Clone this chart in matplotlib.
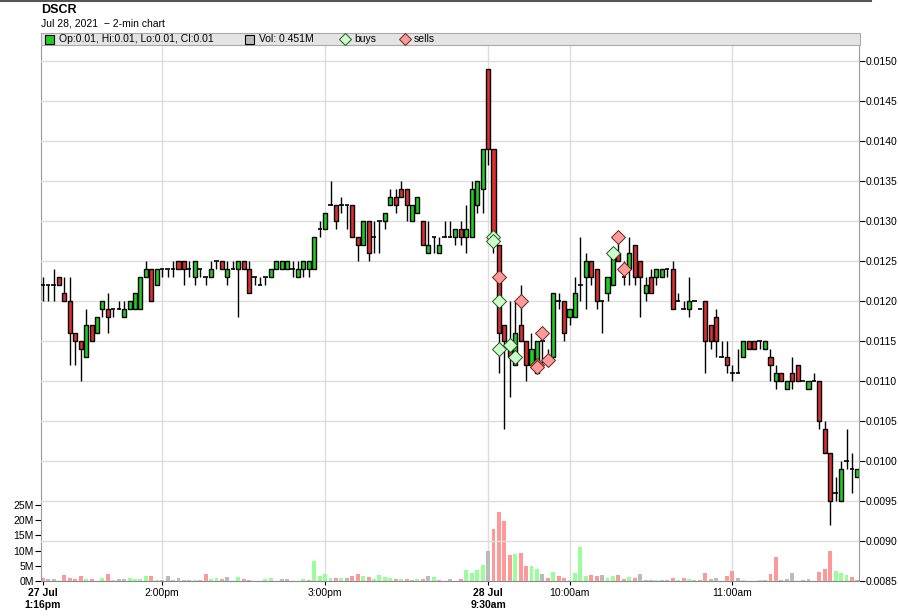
#!/usr/bin/env python3
"""DSCR 2-min candlestick chart with volume — matplotlib"""
import numpy as np
import matplotlib
matplotlib.use('Agg')
import matplotlib.pyplot as plt
from matplotlib.patches import Rectangle
from matplotlib.lines import Line2D

plt.rcParams['font.family'] = ['Liberation Sans', 'DejaVu Sans']

# ============================================================
#  Data (one entry per 2-min bar, 27 Jul 1:16pm -> 28 Jul ~11:46am)
# ============================================================

opens = [
    0.0122, 0.0122, 0.0122, 0.0123, 0.0121, 0.0120, 0.0116, 0.0115, 0.0113, 0.0117,
    0.0116, 0.0119, 0.0119, 0.0119, 0.0119, 0.0118, 0.0119, 0.0119, 0.0119, 0.0123,
    0.0124, 0.0122, 0.0124, 0.0124, 0.0124, 0.0125, 0.0125, 0.0124, 0.0123, 0.0124,
    0.0123, 0.0123, 0.0125, 0.0125, 0.0123, 0.0124, 0.0124, 0.0125, 0.0124, 0.0123,
    0.0122, 0.0123, 0.0123, 0.0124, 0.0124, 0.0124, 0.0124, 0.0123, 0.0124, 0.0124,
    0.0124, 0.0129, 0.0129, 0.0132, 0.0132, 0.0132, 0.0132, 0.0132, 0.0128, 0.0127,
    0.0130, 0.0128, 0.0130, 0.0130, 0.0132, 0.0133, 0.0134, 0.0134, 0.0130, 0.0131,
    0.0130, 0.0126, 0.0128, 0.0126, 0.0128, 0.0128, 0.0128, 0.0129, 0.0128, 0.0128,
    0.0132, 0.0134, 0.0149, 0.0139, 0.0127, 0.0117, 0.0114, 0.0112, 0.0117, 0.0115,
    0.0112, 0.0111, 0.0115, 0.0113, 0.0113, 0.0120, 0.0120, 0.0118, 0.0118, 0.0122,
    0.0123, 0.0125, 0.0124, 0.0120, 0.0121, 0.0122, 0.0126, 0.0123, 0.0124, 0.0127,
    0.0125, 0.0121, 0.0123, 0.0123, 0.0123, 0.0124, 0.0124, 0.0120, 0.0119, 0.0119,
    0.0120, 0.0119, 0.0120, 0.0117, 0.0118, 0.0113, 0.0113, 0.0111, 0.0111, 0.0113,
    0.0115, 0.0115, 0.0115, 0.0114, 0.0113, 0.0110, 0.0111, 0.0109, 0.0111, 0.0112,
    0.0110, 0.0109, 0.0110, 0.0110, 0.0104, 0.0101, 0.0096, 0.0095, 0.0100, 0.0099,
    0.0098,
]
highs = [
    0.0123, 0.0122, 0.0124, 0.0123, 0.0123, 0.0123, 0.0116, 0.0115, 0.0119, 0.0117,
    0.0118, 0.0120, 0.0121, 0.0119, 0.0120, 0.0120, 0.0120, 0.0121, 0.0123, 0.0125,
    0.0124, 0.0124, 0.0124, 0.0124, 0.0125, 0.0125, 0.0125, 0.0125, 0.0125, 0.0124,
    0.0123, 0.0125, 0.0125, 0.0125, 0.0125, 0.0125, 0.0125, 0.0125, 0.0125, 0.0123,
    0.0123, 0.0123, 0.0124, 0.0125, 0.0125, 0.0125, 0.0125, 0.0125, 0.0125, 0.0125,
    0.0128, 0.0130, 0.0131, 0.0135, 0.0132, 0.0133, 0.0132, 0.0132, 0.0128, 0.0130,
    0.0130, 0.0130, 0.0130, 0.0131, 0.0134, 0.0134, 0.0135, 0.0134, 0.0132, 0.0133,
    0.0130, 0.0130, 0.0128, 0.0128, 0.0130, 0.0130, 0.0129, 0.0130, 0.0132, 0.0135,
    0.0135, 0.0139, 0.0149, 0.0139, 0.0127, 0.0117, 0.0120, 0.0120, 0.0122, 0.0115,
    0.0116, 0.0115, 0.0116, 0.0114, 0.0121, 0.0121, 0.0120, 0.0119, 0.0123, 0.0128,
    0.0126, 0.0125, 0.0124, 0.0120, 0.0123, 0.0126, 0.0128, 0.0125, 0.0128, 0.0127,
    0.0125, 0.0123, 0.0124, 0.0124, 0.0124, 0.0124, 0.0125, 0.0121, 0.0120, 0.0123,
    0.0120, 0.0119, 0.0120, 0.0117, 0.0119, 0.0115, 0.0115, 0.0112, 0.0114, 0.0115,
    0.0115, 0.0115, 0.0115, 0.0115, 0.0114, 0.0112, 0.0111, 0.0110, 0.0113, 0.0112,
    0.0110, 0.0110, 0.0111, 0.0110, 0.0105, 0.0101, 0.0098, 0.0100, 0.0104, 0.0101,
    0.0099,
]
lows = [
    0.0120, 0.0120, 0.0120, 0.0122, 0.0120, 0.0112, 0.0112, 0.0110, 0.0113, 0.0115,
    0.0116, 0.0118, 0.0116, 0.0118, 0.0119, 0.0118, 0.0119, 0.0119, 0.0119, 0.0123,
    0.0120, 0.0122, 0.0123, 0.0123, 0.0123, 0.0124, 0.0122, 0.0123, 0.0122, 0.0123,
    0.0122, 0.0123, 0.0124, 0.0124, 0.0122, 0.0124, 0.0118, 0.0124, 0.0121, 0.0122,
    0.0122, 0.0122, 0.0123, 0.0124, 0.0124, 0.0124, 0.0123, 0.0123, 0.0123, 0.0123,
    0.0124, 0.0128, 0.0129, 0.0132, 0.0129, 0.0131, 0.0129, 0.0128, 0.0125, 0.0127,
    0.0125, 0.0126, 0.0126, 0.0129, 0.0132, 0.0131, 0.0133, 0.0130, 0.0130, 0.0131,
    0.0127, 0.0126, 0.0126, 0.0126, 0.0128, 0.0128, 0.0127, 0.0127, 0.0126, 0.0128,
    0.0131, 0.0131, 0.0137, 0.0126, 0.0111, 0.0104, 0.0108, 0.0112, 0.0115, 0.0110,
    0.0112, 0.0111, 0.0112, 0.0112, 0.0113, 0.0119, 0.0115, 0.0117, 0.0118, 0.0120,
    0.0119, 0.0122, 0.0119, 0.0116, 0.0120, 0.0122, 0.0125, 0.0122, 0.0122, 0.0122,
    0.0118, 0.0120, 0.0121, 0.0122, 0.0123, 0.0123, 0.0119, 0.0120, 0.0119, 0.0118,
    0.0120, 0.0119, 0.0111, 0.0114, 0.0113, 0.0113, 0.0111, 0.0110, 0.0111, 0.0113,
    0.0114, 0.0114, 0.0114, 0.0114, 0.0110, 0.0109, 0.0110, 0.0109, 0.0109, 0.0110,
    0.0110, 0.0109, 0.0110, 0.0104, 0.0101, 0.0092, 0.0095, 0.0095, 0.0099, 0.0096,
    0.0098,
]
closes = [
    0.0122, 0.0122, 0.0122, 0.0122, 0.0120, 0.0116, 0.0115, 0.0114, 0.0117, 0.0115,
    0.0118, 0.0120, 0.0118, 0.0119, 0.0119, 0.0119, 0.0120, 0.0121, 0.0123, 0.0124,
    0.0120, 0.0124, 0.0124, 0.0124, 0.0124, 0.0124, 0.0124, 0.0124, 0.0125, 0.0124,
    0.0123, 0.0124, 0.0125, 0.0124, 0.0124, 0.0124, 0.0125, 0.0124, 0.0121, 0.0123,
    0.0122, 0.0123, 0.0124, 0.0125, 0.0125, 0.0125, 0.0124, 0.0124, 0.0125, 0.0125,
    0.0128, 0.0129, 0.0131, 0.0132, 0.0130, 0.0132, 0.0132, 0.0128, 0.0127, 0.0130,
    0.0126, 0.0128, 0.0130, 0.0131, 0.0133, 0.0132, 0.0133, 0.0132, 0.0132, 0.0133,
    0.0127, 0.0127, 0.0128, 0.0127, 0.0128, 0.0128, 0.0129, 0.0128, 0.0129, 0.0134,
    0.0135, 0.0139, 0.0139, 0.0128, 0.0116, 0.0115, 0.0113, 0.0116, 0.0115, 0.0112,
    0.0114, 0.0115, 0.0115, 0.0113, 0.0121, 0.0120, 0.0116, 0.0119, 0.0121, 0.0122,
    0.0125, 0.0123, 0.0120, 0.0120, 0.0123, 0.0126, 0.0125, 0.0123, 0.0126, 0.0123,
    0.0123, 0.0122, 0.0121, 0.0124, 0.0124, 0.0124, 0.0119, 0.0120, 0.0119, 0.0120,
    0.0120, 0.0119, 0.0115, 0.0115, 0.0115, 0.0113, 0.0112, 0.0111, 0.0111, 0.0115,
    0.0114, 0.0114, 0.0115, 0.0115, 0.0112, 0.0111, 0.0110, 0.0110, 0.0110, 0.0110,
    0.0110, 0.0110, 0.0110, 0.0105, 0.0101, 0.0095, 0.0096, 0.0099, 0.0100, 0.0099,
    0.0099,
]
# volume in millions of shares
volumes = [
    1.0, 0.7, 0.7, 0.0, 2.0, 0.9, 0.5, 1.8, 0.5, 0.8,
    0.0, 1.1, 2.4, 0.4, 0.5, 0.8, 1.1, 0.6, 0.8, 1.7,
    1.7, 0.4, 0.4, 1.6, 0.4, 1.1, 0.4, 0.4, 0.4, 0.4,
    2.4, 0.8, 1.1, 0.8, 1.4, 0.0, 1.4, 0.8, 0.4, 0.0,
    0.0, 0.7, 1.0, 0.0, 0.7, 0.7, 0.0, 0.0, 0.7, 0.4,
    6.6, 1.8, 2.4, 1.1, 1.1, 1.1, 1.1, 1.8, 2.4, 1.8,
    1.4, 0.8, 2.0, 1.4, 1.1, 0.8, 0.8, 0.8, 0.4, 0.8,
    0.8, 1.8, 1.4, 0.4, 0.0, 0.8, 0.0, 0.6, 3.6, 2.6,
    3.6, 5.3, 9.9, 17.2, 22.7, 19.7, 8.6, 8.9, 9.2, 4.9,
    4.9, 3.9, 2.3, 1.0, 3.0, 1.6, 1.0, 0.3, 2.6, 11.2,
    1.6, 2.0, 1.6, 2.0, 1.0, 1.6, 2.0, 0.7, 1.3, 1.0,
    2.3, 0.3, 0.3, 0.3, 0.3, 0.3, 1.0, 0.3, 1.0, 0.7,
    0.3, 0.3, 2.6, 0.7, 1.0, 0.0, 1.6, 3.3, 1.0, 0.3,
    0.0, 0.0, 0.3, 0.3, 2.3, 7.9, 0.3, 0.7, 2.6, 0.0,
    0.3, 0.7, 0.0, 3.0, 3.9, 9.9, 3.3, 2.6, 2.0, 1.3,
    0.3,
]
prev_close = 0.0123  # close before the first bar shown

buy_idx = [83, 83, 84, 84, 86, 87, 105]
buy_px = [0.0128, 0.01275, 0.0120, 0.0114, 0.01145, 0.0113, 0.0126]
sell_idx = [84, 88, 91, 91, 92, 93, 106, 107]
sell_px = [0.0123, 0.0120, 0.0112, 0.01118, 0.0116, 0.01126, 0.0128, 0.0124]

tick_pos = [0, 22, 52, 82, 97, 127]
tick_lab = ['27 Jul\n1:16pm', '2:00pm', '3:00pm', '28 Jul\n9:30am', '10:00am', '11:00am']
bold_ticks = [0, 3]

price_ticks = np.round(np.arange(0.0085, 0.01501, 0.0005), 4)
vol_ticks = [0, 5, 10, 15, 20, 25]

# ============================================================
#  Figure
# ============================================================

W, H = 898, 616
fig = plt.figure(figsize=(W / 100, H / 100), dpi=100)
L, R, T, B = 41, 859, 46, 581
ax_vol = fig.add_axes([L / W, 1 - B / H, (R - L) / W, (B - T) / H])
ax = ax_vol.twinx()

x = np.arange(len(closes))
o = np.array(opens); c = np.array(closes)
hi = np.array(highs); lo = np.array(lows)

# volume colours: compare close with previous close
prev = np.concatenate([[prev_close], c[:-1]])
vcol = np.where(c > prev + 1e-9, '#99FF99', np.where(c < prev - 1e-9, '#FF9999', '#BBBBBB'))
ax_vol.bar(x, volumes, width=0.72, color=vcol, linewidth=0, zorder=2)
ax_vol.set_ylim(0, 25 * (B - T) / 76)
ax_vol.set_yticks(vol_ticks)
ax_vol.set_yticklabels([f'{v}M' for v in vol_ticks])
for p in tick_pos[1:]:
    ax_vol.axvline(p, color='#DDDDDD', lw=1, zorder=0)

# candles
ax.vlines(x, lo, hi, color='black', lw=1, zorder=3)
body = c != o
up = c > o
ax.bar(x[body & up], (c - o)[body & up], bottom=o[body & up], width=0.75,
       color='#22CC22', edgecolor='black', linewidth=1, zorder=4)
ax.bar(x[body & ~up], (o - c)[body & ~up], bottom=c[body & ~up], width=0.75,
       color='#DD2F2F', edgecolor='black', linewidth=1, zorder=4)
ax.hlines(c[~body], x[~body] - 0.4, x[~body] + 0.4, color='black', lw=1.2, zorder=4)

# trades
ax.plot(buy_idx, buy_px, 'D', ms=7, mfc='#CCFFCC', mec='#225522', mew=0.7, zorder=5)
ax.plot(sell_idx, sell_px, 'D', ms=7, mfc='#FF9A9A', mec='#662222', mew=0.7, zorder=5)

ax.set_ylim(0.0085, 0.0085 + (B - T) / 80 * 0.001)
ax.set_yticks(price_ticks)
ax.set_yticklabels([f'{v:.4f}' for v in price_ticks])
ax.yaxis.grid(True, color='#DDDDDD', lw=1)
ax.set_axisbelow(True)
ax.set_xlim(-0.31, 150.3)

ax_vol.set_xticks(tick_pos)
ax_vol.set_xticklabels(tick_lab)
for i, t in enumerate(ax_vol.get_xticklabels()):
    if i in bold_ticks:
        t.set_fontweight('bold')

for a in (ax, ax_vol):
    a.tick_params(labelsize=7.5, colors='black', length=4, width=0.8, pad=1)
    for s in a.spines.values():
        s.set_visible(False)
ax_vol.tick_params(axis='x', length=3, pad=2)
ax_vol.spines['left'].set_visible(True)
ax_vol.spines['left'].set_color('#999999')
ax_vol.spines['bottom'].set_visible(True)
ax_vol.spines['bottom'].set_color('#888888')
ax.spines['right'].set_visible(True)
ax.spines['right'].set_color('#999999')

# ============================================================
#  Header + legend strip
# ============================================================

fig.text(41 / W, 1 - 10 / H, 'DSCR', fontsize=9, fontweight='bold', va='center')
fig.text(41 / W, 1 - 24 / H, 'Jul 28, 2021  \u2212 2-min chart', fontsize=7.5, va='center')
fig.add_artist(Line2D([0, 0.97], [0.999, 0.999], color='#555555', lw=1.5))

fig.add_artist(Rectangle((41 / W, 1 - 45 / H), (R - L + 1) / W, 12 / H,
                         transform=fig.transFigure, facecolor='#E4E4E4',
                         edgecolor='#AAAAAA', lw=0.8))
ly = 1 - 39 / H
fig.add_artist(Rectangle((45 / W, 1 - 44 / H), 9 / W, 9 / H, transform=fig.transFigure,
                         facecolor='#22CC22', edgecolor='black', lw=0.8))
fig.text(59 / W, ly, 'Op:0.01, Hi:0.01, Lo:0.01, Cl:0.01', fontsize=7.5, va='center')
fig.add_artist(Rectangle((245 / W, 1 - 44 / H), 9 / W, 9 / H, transform=fig.transFigure,
                         facecolor='#BBBBBB', edgecolor='black', lw=0.8))
fig.text(259 / W, ly, 'Vol: 0.451M', fontsize=7.5, va='center')
fig.add_artist(Line2D([345 / W], [ly], marker='D', ms=6, mfc='#CCFFCC', mec='#225522',
                      mew=0.7, transform=fig.transFigure))
fig.text(354 / W, ly, 'buys', fontsize=7.5, va='center')
fig.add_artist(Line2D([405 / W], [ly], marker='D', ms=6, mfc='#FF9A9A', mec='#662222',
                      mew=0.7, transform=fig.transFigure))
fig.text(414 / W, ly, 'sells', fontsize=7.5, va='center')

plt.savefig('out.png', dpi=100)
plt.close()
